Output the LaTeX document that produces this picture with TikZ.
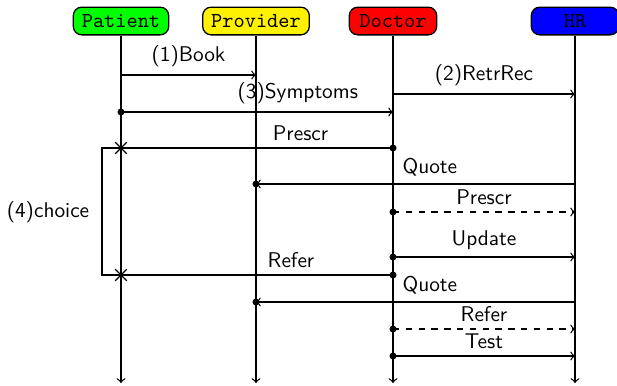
\documentclass[tikz,border=0pt]{standalone}
\usepackage{tikz}
\usetikzlibrary{arrows.meta,calc,shapes.misc}

\tikzset{
  actor/.style={draw, rounded corners=4pt, font=\ttfamily, minimum width=41pt,
    minimum height=13pt, inner xsep=4pt},
  lifeline/.style={->},
  msg/.style={->},
  reply/.style={->, dashed},
  msglabel/.style={above, font=\sffamily},
  dot/.style={circle, fill, inner sep=0pt, minimum size=3.3pt},
  xmark/.style={cross out, draw, inner sep=0pt, minimum size=4.8pt}
}

\begin{document}
\begin{tikzpicture}[x=0.469pt, y=-0.469pt, >=to, font=\sffamily, semithick]
		\useasboundingbox (0,0) rectangle (617,385);
		% actors
		\node[actor, fill=green] (pat) at (121,21) {Patient};
		\node[actor, fill=yellow] (prov) at (256,21) {Provider};
		\node[actor, fill=red] (doc) at (393,21) {Doctor};
		\node[actor, fill=blue] (hr) at (575,21) {HR};
		\coordinate (bot) at (0,383);
		% lifelines
		\foreach \a in {pat,prov,doc,hr}
			\draw[lifeline] (\a.south) -- (\a |- bot);
		% message levels
		\coordinate (m1) at (0,75);
		\coordinate (m2) at (0,94);
		\coordinate (m3) at (0,112);
		\coordinate (m4) at (0,148);
		\coordinate (m5) at (0,184);
		\coordinate (m6) at (0,212);
		\coordinate (m7) at (0,257);
		\coordinate (m8) at (0,275);
		\coordinate (m9) at (0,302);
		\coordinate (m10) at (0,329);
		\coordinate (m11) at (0,356);
		% messages
		\draw[msg] (pat |- m1) -- node[msglabel] {(1)Book} (prov |- m1);
		\draw[msg] (doc |- m2) -- node[msglabel] {(2)RetrRec} (hr |- m2);
		\draw[msg] (pat |- m3) -- node[msglabel, pos=0.65] {(3)Symptoms} (doc |- m3);
		\node[dot] (d3) at (pat |- m3) {};
		\draw (doc |- m4) -- node[msglabel, pos=0.34] {Prescr} (pat |- m4);
		\node[dot] (d4) at (doc |- m4) {};
		\node[xmark] (x4) at (pat |- m4) {};
		\draw[msg] (hr |- m5) -- node[msglabel, pos=0.455] {Quote} (prov |- m5);
		\node[dot] (d5) at (prov |- m5) {};
		\draw[reply] (doc |- m6) -- node[msglabel] {Prescr} (hr |- m6);
		\node[dot] (d6) at (doc |- m6) {};
		\draw[msg] (doc |- m7) -- node[msglabel] {Update} (hr |- m7);
		\node[dot] (d7) at (doc |- m7) {};
		\draw (doc |- m8) -- node[msglabel, pos=0.375] {Refer} (pat |- m8);
		\node[dot] (d8) at (doc |- m8) {};
		\node[xmark] (x8) at (pat |- m8) {};
		\draw[msg] (hr |- m9) -- node[msglabel, pos=0.455] {Quote} (prov |- m9);
		\node[dot] (d9) at (prov |- m9) {};
		\draw[reply] (doc |- m10) -- node[msglabel] {Refer} (hr |- m10);
		\node[dot] (d10) at (doc |- m10) {};
		\draw[msg] (doc |- m11) -- node[msglabel] {Test} (hr |- m11);
		\node[dot] (d11) at (doc |- m11) {};
		% choice frame
		\coordinate (fl) at (102,0);
		\draw (pat |- m4) -| (fl |- m6) |- (pat |- m8);
		\node (choice) at (48,212) {(4)choice};
	\end{tikzpicture}
\end{document}
